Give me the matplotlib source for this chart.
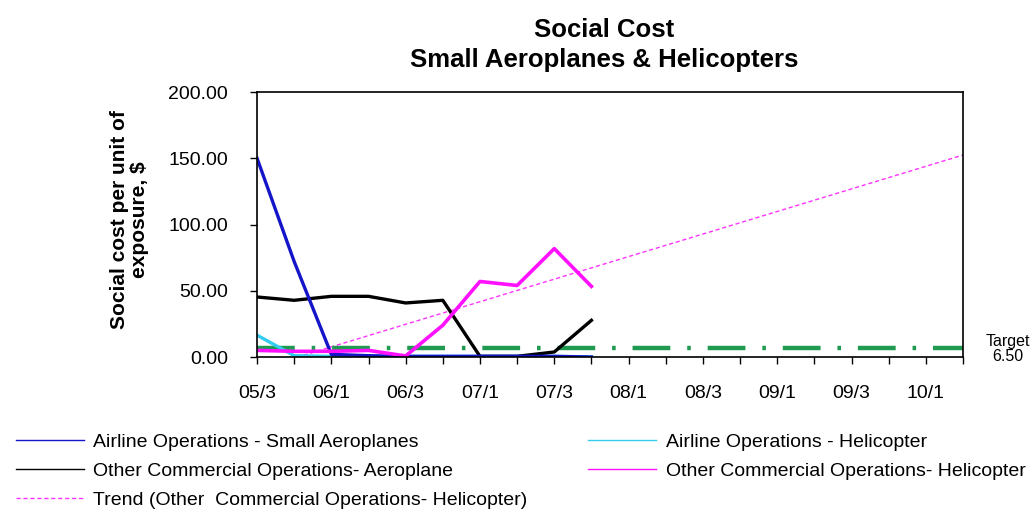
import matplotlib
matplotlib.use("Agg")
import matplotlib.pyplot as plt
import numpy as np

plt.rcParams["font.family"] = ["Liberation Sans", "DejaVu Sans"]

# quarters 05/3 .. 10/2, labelled every second one
quarters = ["05/3", "05/4", "06/1", "06/2", "06/3", "06/4", "07/1", "07/2",
            "07/3", "07/4", "08/1", "08/2", "08/3", "08/4", "09/1", "09/2",
            "09/3", "09/4", "10/1", "10/2"]

airline_small = [150.0, 72.0, 2.0, 1.0, 0.5, 0.5, 0.5, 0.5, 0.5, 0.0]
airline_heli = [16.5, 1.0, 0.5, 0.5, 0.5, 0.5, 0.5, 0.5, 0.5, 0.0]
other_aero = [45.3, 42.8, 45.8, 45.8, 40.8, 42.8, 0.5, 0.5, 3.8, 27.7]
other_heli = [5.0, 4.3, 4.3, 5.0, 0.8, 24.0, 57.0, 54.0, 81.8, 53.3]
target = 6.50

x_all = np.arange(len(quarters))
x_data = np.arange(len(other_heli))

# linear trend of the helicopter series, extended over every quarter
slope, intercept = np.polyfit(x_data, other_heli, 1)
trend = intercept + slope * x_all

fig = plt.figure(figsize=(10.34, 5.12), dpi=100)
ax = fig.add_axes([0.2486, 0.3027, 0.6827, 0.5176])

l_trend, = ax.plot(x_all, trend, color="#ff33ff", lw=1.0, ls=(0, (3, 2)),
                   label="Trend (Other  Commercial Operations- Helicopter)")
ax.plot(x_all, [target] * len(x_all), color="#1f9a50", lw=3.2,
        ls=(0, (8.5, 3.8, 0.8, 3.8)), zorder=2)
l_cyan, = ax.plot(x_data, airline_heli, color="#33ccee", lw=2.4,
                  label="Airline Operations - Helicopter")
l_black, = ax.plot(x_data, other_aero, color="black", lw=2.4,
                   label="Other Commercial Operations- Aeroplane")
l_blue, = ax.plot(x_data, airline_small, color="#1414c8", lw=2.4,
                  label="Airline Operations - Small Aeroplanes")
l_mag, = ax.plot(x_data, other_heli, color="#ff10ff", lw=2.6,
                 label="Other Commercial Operations- Helicopter")

ax.set_xlim(0, len(quarters) - 1)
ax.set_ylim(0, 200)
ax.set_yticks([0, 50, 100, 150, 200])
ax.set_yticklabels([f"{v:.2f}" for v in [0, 50, 100, 150, 200]])
ax.set_xticks(x_all)
ax.set_xticklabels([q if i % 2 == 0 else "" for i, q in enumerate(quarters)])
ax.tick_params(axis="both", labelsize=14, direction="out", length=5,
               width=1, colors="black")
ax.tick_params(axis="y", pad=16)
ax.tick_params(axis="x", pad=15)
for s in ax.spines.values():
    s.set_linewidth(1.2)

ax.set_ylabel("Social cost per unit of\nexposure, $", fontweight="bold",
              fontsize=15, labelpad=14, linespacing=1.05)
ax.yaxis.label.set_y(0.52)

ax.text(1.064, 0.03, "Target\n6.50", transform=ax.transAxes, ha="center",
        va="center", fontsize=11.5, linespacing=1.05)

fig.suptitle("Social Cost\nSmall Aeroplanes & Helicopters", x=0.584, y=0.965,
             fontsize=18.5, fontweight="bold", linespacing=1.32)

handles = [l_blue, l_black, l_trend, l_cyan, l_mag]
fig.legend(handles=handles, labels=[h.get_label() for h in handles], ncol=2,
           loc="upper left", bbox_to_anchor=(0.0, 0.184), frameon=False,
           fontsize=14, handlelength=3.5, handletextpad=0.5,
           columnspacing=3.1, labelspacing=0.58, borderpad=0.3)
for h in fig.legends[0].get_lines():
    h.set_linewidth(1.0)

fig.savefig("out.png", dpi=100)
